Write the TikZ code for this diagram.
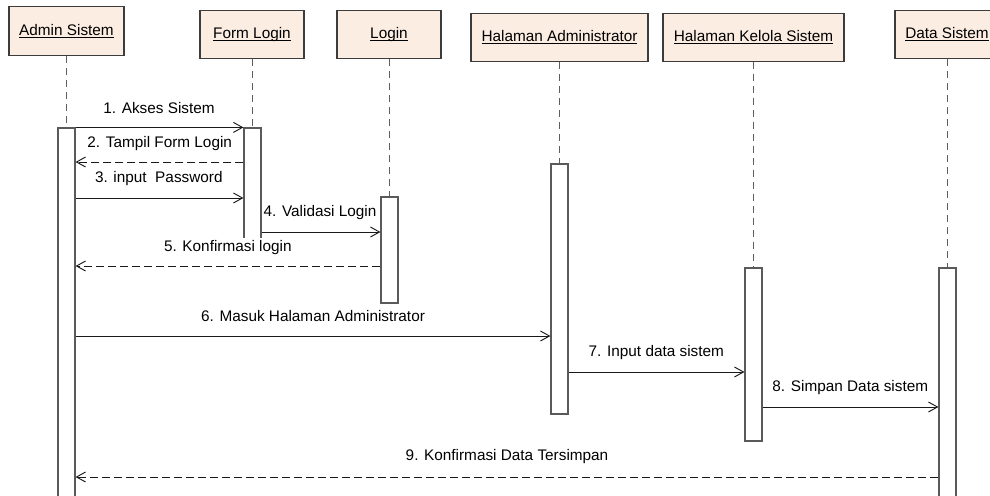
\documentclass[tikz,border=0pt]{standalone}
\usepackage{fontspec}
\setmainfont{Liberation Sans}
\usetikzlibrary{arrows.meta}

\definecolor{headfill}{RGB}{252,237,226}
\definecolor{headedge}{RGB}{60,60,60}
\definecolor{lifegray}{RGB}{95,95,95}
\definecolor{actedge}{RGB}{90,90,90}
\definecolor{msgline}{RGB}{25,25,25}

% underlined object name
\newcommand\hdul[1]{\setbox0=\hbox{#1}\rlap{\rule[-1.8pt]{\wd0}{0.6pt}}\box0}

\begin{document}
\begin{tikzpicture}[x=0.75pt,y=-0.75pt,
  every node/.style={font=\fontsize{11.5}{13}\selectfont},
  head/.style={draw=headedge, line width=0.8pt, fill=headfill,
    minimum height=36.5pt, inner sep=0pt},
  act/.style={draw=actedge, line width=0.9pt, fill=white,
    minimum width=12.75pt, inner sep=0pt},
  life/.style={draw=lifegray, line width=0.7pt, dash pattern=on 5.25pt off 3.75pt},
  msg/.style={draw=msgline, line width=0.7pt,
    -{Straight Barb[length=6.75pt,width=7.5pt,line width=0.7pt]}},
  reply/.style={msg, dash pattern=on 6pt off 3pt},
  lbl/.style={anchor=base, inner sep=0pt, text=black}
]
\useasboundingbox (0,0) rectangle (990,496);
\clip (0,0) rectangle (990,496);

% object headers
\node[head, minimum width=86.25pt]  (hA) at (66.5,31)   {\hdul{Admin Sistem}};
\node[head, minimum width=78pt]     (hF) at (252,34.5)  {\hdul{Form Login}};
\node[head, minimum width=78pt]     (hL) at (389,34.5)  {\hdul{Login}};
\node[head, minimum width=132.75pt] (hH) at (559.5,37.5){\hdul{Halaman Administrator}};
\node[head, minimum width=135.75pt] (hK) at (753.5,37.5){\hdul{Halaman Kelola Sistem}};
\node[head, minimum width=78pt]     (hD) at (947,34.5)  {\hdul{Data Sistem}};

% activation bars
\node[act, minimum height=286.5pt] (aA) at (66.5,319)   {};
\node[act, minimum height=88.5pt]  (aF) at (252.5,187)  {};
\node[act, minimum height=79.5pt]  (aL) at (389.5,250)  {};
\node[act, minimum height=187.5pt] (aH) at (559.5,289)  {};
\node[act, minimum height=129.75pt](aK) at (753.5,354.5){};
\node[act, minimum height=181.5pt] (aD) at (947.5,389)  {};

% lifelines
\draw[life] (hA.south) -- (hA.south |- aA.north);
\draw[life] (hF.south) -- (hF.south |- aF.north);
\draw[life] (hL.south) -- (hL.south |- aL.north);
\draw[life] (hH.south) -- (hH.south |- aH.north);
\draw[life] (hK.south) -- (hK.south |- aK.north);
\draw[life] (hD.south) -- (hD.south |- aD.north);

% message heights
\coordinate (m2) at (0,162);
\coordinate (m3) at (0,198);
\coordinate (m4) at (0,232);
\coordinate (m5) at (0,266);
\coordinate (m6) at (0,336);
\coordinate (m7) at (0,372);
\coordinate (m8) at (0,407);
\coordinate (m9) at (0,477);

% messages
\draw[msg]   (aA.north east) -- (aF.north west);
\draw[reply] (aF.west |- m2) -- (aA.east |- m2);
\draw[msg]   (aA.east |- m3) -- (aF.west |- m3);
\draw[msg]   (aF.east |- m4) -- (aL.west |- m4);
\draw[reply] (aL.west |- m5) -- (aA.east |- m5);
\draw[msg]   (aA.east |- m6) -- (aH.west |- m6);
\draw[msg]   (aH.east |- m7) -- (aK.west |- m7);
\draw[msg]   (aK.east |- m8) -- (aD.west |- m8);
\draw[reply] (aD.west |- m9) -- (aA.east |- m9);

% message labels
\node[lbl] (t1) at (159,113)   {1. Akses Sistem};
\node[lbl] (t2) at (159.7,147.7) {2. Tampil Form Login};
\node[lbl] (t3) at (158.8,182.7) {3. input\ \ Password};
\node[lbl] (t4) at (320,216.7) {4. Validasi Login};
\node[lbl, fill=white, inner sep=2pt] (t5) at (227.8,251.7) {5. Konfirmasi login};
\node[lbl] (t6) at (313,321.7) {6. Masuk Halaman Administrator};
\node[lbl] (t7) at (656.3,356.7) {7. Input data sistem};
\node[lbl] (t8) at (850.3,391.7) {8. Simpan Data sistem};
\node[lbl] (t9) at (507,460) {9. Konfirmasi Data Tersimpan};
\end{tikzpicture}
\end{document}
